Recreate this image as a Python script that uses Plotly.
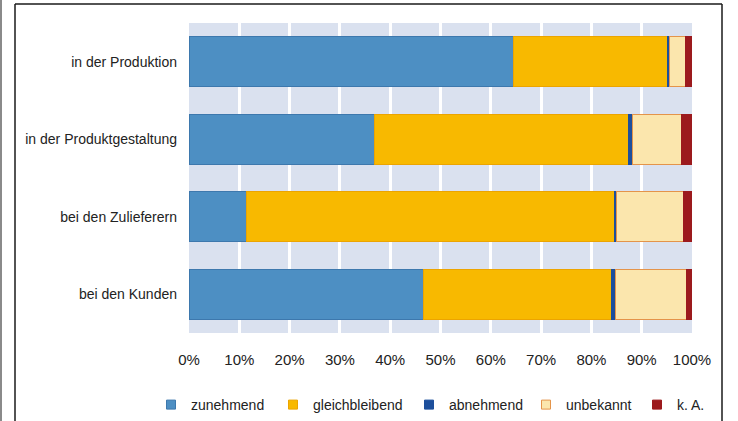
import plotly.graph_objects as go

categories = ["in der Produktion", "in der Produktgestaltung", "bei den Zulieferern", "bei den Kunden"]
series_names = ["zunehmend", "gleichbleibend", "abnehmend", "unbekannt", "k. A."]
zunehmend = [64.6, 36.9, 11.5, 46.6]
gleichbleibend = [30.6, 50.5, 73.0, 37.3]
abnehmend = [0.4, 0.7, 0.5, 0.9]
unbekannt = [3.2, 9.8, 13.3, 14.2]
k_a = [1.2, 2.1, 1.7, 1.0]
tick_vals = [0, 10, 20, 30, 40, 50, 60, 70, 80, 90, 100]
tick_text = ["0%", "10%", "20%", "30%", "40%", "50%", "60%", "70%", "80%", "90%", "100%"]

values = [zunehmend, gleichbleibend, abnehmend, unbekannt, k_a]
fills = ["#4d8fc3", "#f8b900", "#1d4f9c", "#fbe6ad", "#9c1a1d"]
edges = ["#3d78ad", "#eca400", "#1d4f9c", "#e4944a", "#9c1a1d"]
legend_text_x = [190, 312, 448, 565, 676]  # pixel position of each legend label

W, H = 738, 421
L, R, T, B = 189, 46, 23, 88
pw, ph = W - L - R, H - T - B

fig = go.Figure()
for name, vals, fc, ec in zip(series_names, values, fills, edges):
    fig.add_trace(go.Bar(
        y=categories, x=vals, name=name, orientation="h", legendgroup=name, showlegend=False,
        marker=dict(color=fc, line=dict(color=ec, width=1)),
    ))

legend_layouts = {}
for i, (name, fc, ec, tx) in enumerate(zip(series_names, fills, edges, legend_text_x)):
    lid = "legend" if i == 0 else f"legend{i + 1}"
    fig.add_trace(go.Scatter(
        x=[None], y=[None], mode="markers", name=name, legendgroup=name, showlegend=True,
        legend=lid,
        marker=dict(symbol="square", size=9, color=fc, line=dict(color=ec, width=1)),
    ))
    legend_layouts[lid] = dict(
        orientation="h", xref="container", yref="container",
        x=(tx - 39) / W, y=1 - 405 / H, xanchor="left", yanchor="middle",
        font=dict(size=14, color="#222222"), bgcolor="rgba(0,0,0,0)", borderwidth=0,
    )

def px_x(p):
    return (p - L) / pw

def px_y(p):
    return (H - B - p) / ph

frame = dict(color="#1a1a1a", width=1.5)
shapes = [
    dict(type="line", xref="paper", yref="paper", x0=px_x(15), x1=px_x(15), y0=px_y(4), y1=px_y(421), line=frame),
    dict(type="line", xref="paper", yref="paper", x0=px_x(15), x1=px_x(722), y0=px_y(4), y1=px_y(4), line=frame),
    dict(type="line", xref="paper", yref="paper", x0=px_x(722), x1=px_x(722), y0=px_y(4), y1=px_y(421), line=frame),
    dict(type="line", xref="paper", yref="paper", x0=px_x(1), x1=px_x(1), y0=px_y(0), y1=px_y(421), line=dict(color="#8a8a8a", width=2)),
]

fig.update_layout(
    width=W, height=H,
    barmode="stack", bargap=0.36,
    margin=dict(l=L, r=R, t=T, b=B, pad=0, autoexpand=False),
    paper_bgcolor="white", plot_bgcolor="#dae1ef",
    font=dict(family="Liberation Sans, Arial, sans-serif", size=14, color="#222222"),
    showlegend=True,
    shapes=shapes,
    **legend_layouts,
)
fig.update_xaxes(range=[0, 100], tickvals=tick_vals, ticktext=tick_text, showgrid=True,
                 gridcolor="white", gridwidth=3, zeroline=False, showline=False,
                 ticks="", ticklabelstandoff=16, tickfont=dict(size=15, color="#222222"), fixedrange=True)
fig.update_yaxes(autorange="reversed", showgrid=False, zeroline=False, showline=False,
                 ticks="", ticklabelstandoff=11, tickfont=dict(size=14, color="#222222"))

fig.write_html("out.html", config={"displayModeBar": False},
               post_script="document.body.style.margin='0';")
